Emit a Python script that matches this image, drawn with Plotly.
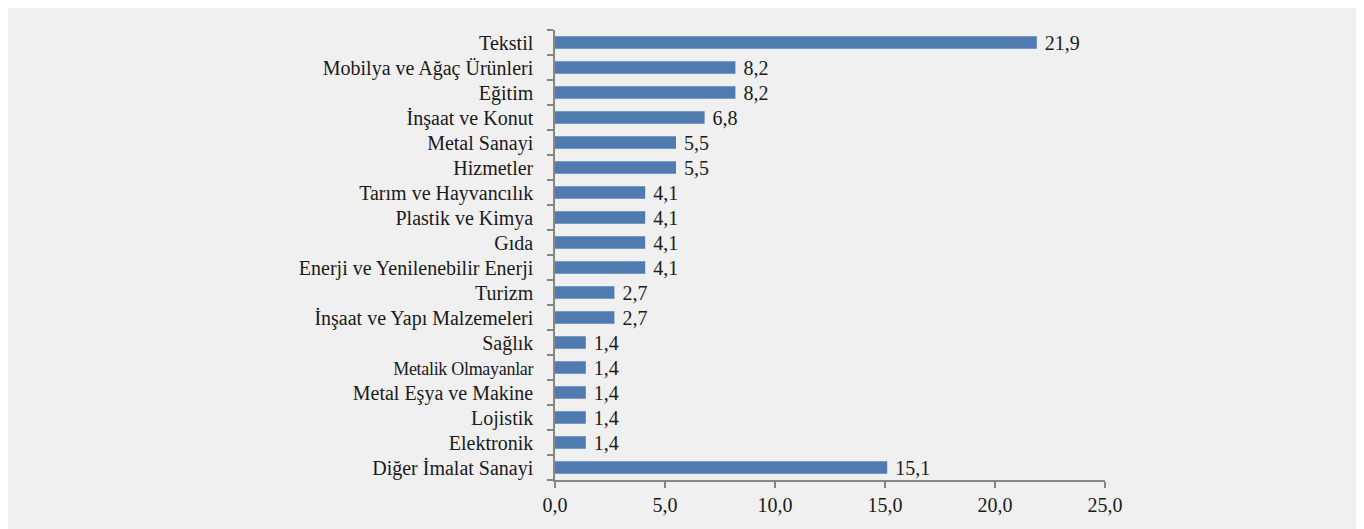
import plotly.graph_objects as go

categories = ['Tekstil', 'Mobilya ve Ağaç Ürünleri', 'Eğitim', 'İnşaat ve Konut',
              'Metal Sanayi', 'Hizmetler', 'Tarım ve Hayvancılık', 'Plastik ve Kimya',
              'Gıda', 'Enerji ve Yenilenebilir Enerji', 'Turizm',
              'İnşaat ve Yapı Malzemeleri', 'Sağlık', 'Metalik Olmayanlar',
              'Metal Eşya ve Makine', 'Lojistik', 'Elektronik', 'Diğer İmalat Sanayi']
values = [21.9, 8.2, 8.2, 6.8, 5.5, 5.5, 4.1, 4.1, 4.1, 4.1, 2.7, 2.7,
          1.4, 1.4, 1.4, 1.4, 1.4, 15.1]
x_ticks = [0, 5, 10, 15, 20, 25]
x_ticklabels = ['0,0', '5,0', '10,0', '15,0', '20,0', '25,0']

# narrower label for one category, as in the source
ticktext = [('<span style="font-size:18px;letter-spacing:-0.3px">%s</span>' % c)
            if c == 'Metalik Olmayanlar' else c for c in categories]

fig = go.Figure()
fig.add_trace(go.Bar(
    x=values, y=categories, orientation='h', width=0.5,
    marker=dict(color='#4f7bb0', line=dict(width=0)),
    text=['\u00a0' + ('%.1f' % v).replace('.', ',') for v in values],
    textposition='outside', cliponaxis=False, constraintext='none',
    textfont=dict(family='Liberation Serif', size=20, color='#1a1a1a'),
))

# page body adds an 8px white margin, so the figure is 8px smaller
fig.update_layout(
    width=1356, height=521,
    margin=dict(l=547, r=259, t=22, b=49),
    paper_bgcolor='#f0f0f0', plot_bgcolor='rgba(0,0,0,0)',
    font=dict(family='Liberation Serif', size=20, color='#1a1a1a'),
    showlegend=False,
    xaxis=dict(range=[0, 25], tickvals=x_ticks, ticktext=x_ticklabels,
               showgrid=False, zeroline=False, showline=True,
               linecolor='#868686', linewidth=1.5, ticks='outside', ticklen=6,
               tickcolor='#868686', tickwidth=1.5),
    yaxis=dict(autorange='reversed', tickvals=categories, ticktext=ticktext,
               showgrid=False, showline=True, linecolor='#868686', linewidth=1.5,
               ticks='outside', tickson='boundaries', ticklen=6,
               tickcolor='#868686', tickwidth=1.5, ticklabelstandoff=16),
)

fig.write_html('out.html')
